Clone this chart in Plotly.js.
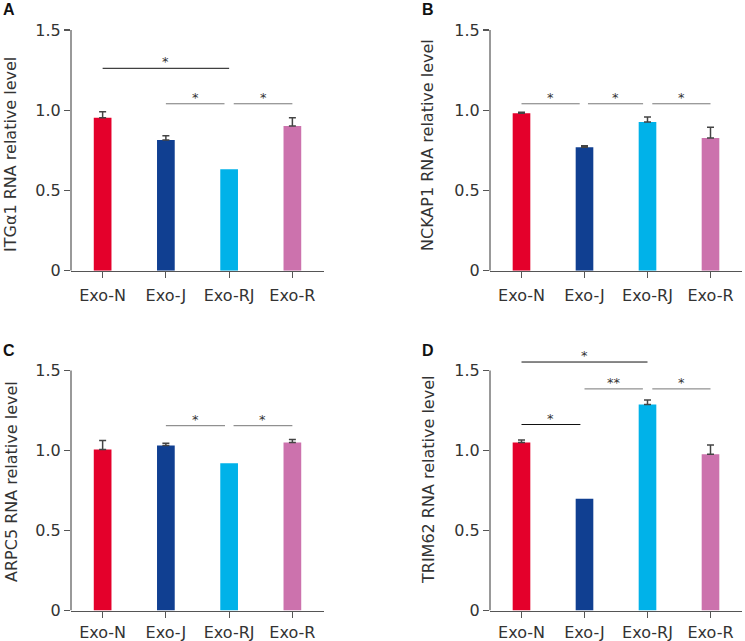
<!DOCTYPE html>
<html>
<head>
<meta charset="utf-8">
<script src="https://cdn.plot.ly/plotly-3.0.1.min.js"></script>
<style>
  body { margin: 0; background: #fff; }
  #chart { width: 745px; height: 641px; }
</style>
</head>
<body>
<div id="chart"></div>
<script>
// groups and colours
const groups = ['Exo-N', 'Exo-J', 'Exo-RJ', 'Exo-R'];
const barColors = ['#e4002b', '#103f91', '#00b2e9', '#cc72ad'];

const panelLetters = ['A', 'B', 'C', 'D'];
const genes = ['ITGα1', 'NCKAP1', 'ARPC5', 'TRIM62'];

// relative RNA level (mean) and upper error (null = no bar)
const itga1Mean = [0.953, 0.814, 0.632, 0.902];
const itga1Err  = [0.037, 0.027, null, 0.051];
const nckap1Mean = [0.981, 0.769, 0.927, 0.827];
const nckap1Err  = [0.007, 0.010, 0.031, 0.066];
const arpc5Mean = [1.006, 1.031, 0.921, 1.050];
const arpc5Err  = [0.057, 0.015, null, 0.019];
const trim62Mean = [1.050, 0.698, 1.288, 0.977];
const trim62Err  = [0.016, null, 0.028, 0.058];

// significance brackets: [from, to, level, label]
const itga1Sig = [[0, 2, 1.261, '*'], [1, 1.927, 1.04, '*'], [2.073, 3, 1.04, '*']];
const nckap1Sig = [[0, 0.924, 1.04, '*'], [1.055, 1.93, 1.04, '*'], [2.076, 3, 1.04, '*']];
const arpc5Sig = [[1, 1.935, 1.155, '*'], [2.07, 3, 1.155, '*']];
const trim62Sig = [[0, 2, 1.553, '*'], [1, 1.927, 1.385, '**'], [2.076, 3, 1.385, '*'], [0, 0.935, 1.1625, '*']];
// which brackets are drawn in black (others grey)
const itga1Dark = [true, false, false];
const nckap1Dark = [false, false, false];
const arpc5Dark = [false, false];
const trim62Dark = [true, false, false, true];

const means = [itga1Mean, nckap1Mean, arpc5Mean, trim62Mean];
const errs = [itga1Err, nckap1Err, arpc5Err, trim62Err];
const sigs = [itga1Sig, nckap1Sig, arpc5Sig, trim62Sig];
const darks = [itga1Dark, nckap1Dark, arpc5Dark, trim62Dark];

const FONT = 'DejaVu Sans, Arial, sans-serif';
const W = 745, H = 641;

// panel geometry (pixels)
const xDom = [[71, 324], [490, 742], [71, 324], [490, 742]];
const yDom = [[270.7, 13.9], [270.7, 13.9], [610.5, 354.5], [610.5, 354.5]];
const titlePos = [[11, 155], [428, 145], [11, 482], [428, 480]];
const letterPos = [[9, 10], [428, 9], [9, 350], [428, 350]];
const labelGap = [4, 4, 1, 1];

const traces = [];
const shapes = [];
const annotations = [];
const layout = {
  width: W, height: H,
  margin: {l: 0, r: 0, t: 0, b: 0},
  paper_bgcolor: '#fff', plot_bgcolor: 'rgba(0,0,0,0)',
  showlegend: false,
  font: {family: FONT, color: '#333'}
};

const xIdx = groups.map((g, i) => i);

for (let p = 0; p < 4; p++) {
  const s = p === 0 ? '' : String(p + 1);
  const xa = 'x' + s, ya = 'y' + s;

  traces.push({
    type: 'bar',
    x: xIdx,
    y: means[p],
    width: 0.28,
    xaxis: xa, yaxis: ya,
    marker: {color: barColors, line: {width: 0}},
    error_y: {
      type: 'data', symmetric: false,
      array: errs[p].map(v => v === null ? NaN : v),
      arrayminus: errs[p].map(v => v === null ? NaN : 0),
      color: '#444', thickness: 1.5, width: 3.5
    },
    hoverinfo: 'x+y'
  });

  layout['xaxis' + s] = {
    domain: [xDom[p][0] / W, xDom[p][1] / W],
    anchor: ya,
    range: [-0.5, 3.5],
    tickvals: xIdx, ticktext: groups,
    ticks: 'outside', ticklen: 6, tickwidth: 1.2, tickcolor: '#555',
    showline: true, linecolor: '#555', linewidth: 1.2,
    showgrid: false, zeroline: false,
    tickfont: {family: FONT, size: 16, color: '#333'},
    ticklabelstandoff: labelGap[p]
  };
  layout['yaxis' + s] = {
    domain: [1 - yDom[p][0] / H, 1 - yDom[p][1] / H],
    anchor: xa,
    range: [0, 1.6],
    tickvals: [0, 0.5, 1, 1.5], ticktext: ['0', '0.5', '1.0', '1.5'],
    ticks: 'outside', ticklen: 6, tickwidth: 1.2, tickcolor: '#555',
    showline: false, showgrid: false, zeroline: false,
    tickfont: {family: FONT, size: 16, color: '#333'}
  };

  // y axis line only up to 1.5
  shapes.push({
    type: 'line', xref: xa + ' domain', yref: ya,
    x0: 0, x1: 0, y0: 0, y1: 1.5,
    line: {color: '#555', width: 1.2}
  });

  sigs[p].forEach((b, k) => {
    shapes.push({
      type: 'line', xref: xa, yref: ya,
      x0: b[0], x1: b[1], y0: b[2], y1: b[2],
      line: {color: darks[p][k] ? '#111' : '#777', width: 1}
    });
    annotations.push({
      xref: xa, yref: ya, x: (b[0] + b[1]) / 2, y: b[2],
      text: b[3], showarrow: false, yanchor: 'bottom', yshift: -3,
      font: {family: FONT, size: 13, color: '#333'}
    });
  });

  annotations.push({
    xref: 'paper', yref: 'paper',
    x: titlePos[p][0] / W, y: 1 - titlePos[p][1] / H,
    xanchor: 'center', yanchor: 'middle', textangle: -90,
    text: genes[p] + ' RNA relative level', showarrow: false,
    font: {family: FONT, size: 16, color: '#333'}
  });
  annotations.push({
    xref: 'paper', yref: 'paper',
    x: letterPos[p][0] / W, y: 1 - letterPos[p][1] / H,
    xanchor: 'center', yanchor: 'middle',
    text: '<b>' + panelLetters[p] + '</b>', showarrow: false,
    font: {family: 'Liberation Sans, Arial, sans-serif', size: 16, color: '#111'}
  });
}

layout.shapes = shapes;
layout.annotations = annotations;

Plotly.newPlot('chart', traces, layout, {displayModeBar: false, staticPlot: true});
</script>
</body>
</html>
